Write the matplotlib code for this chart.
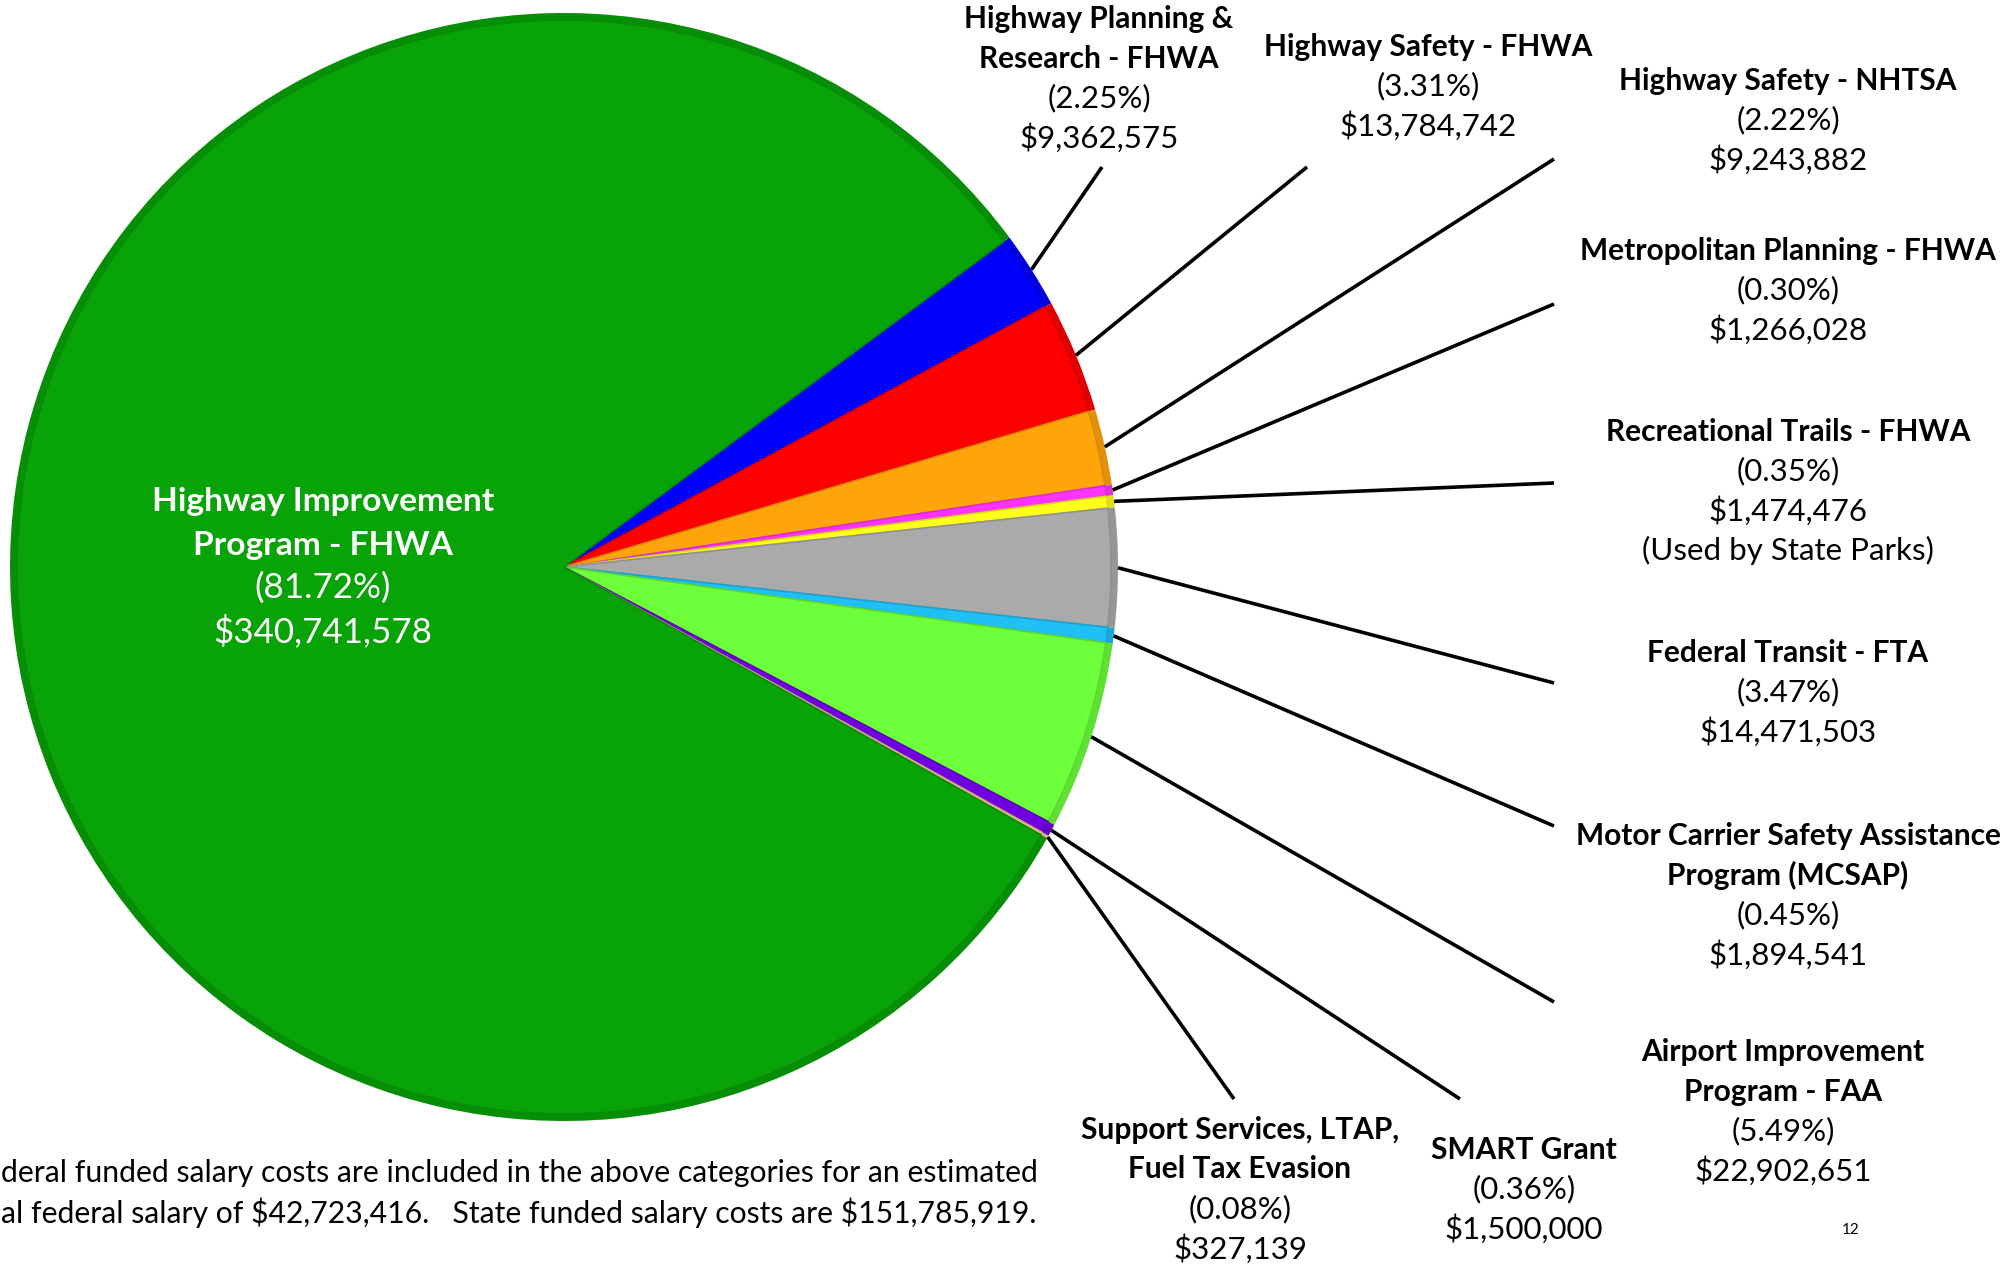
import numpy as np
import matplotlib
matplotlib.use("Agg")
from matplotlib import pyplot as plt
from matplotlib.colors import to_rgb

plt.rcParams['font.family'] = ['Lato', 'DejaVu Sans']
plt.rcParams['text.parse_math'] = False

# slice data, clockwise from the blue slice
titles = [
    ["Highway Planning &", "Research - FHWA"],
    ["Highway Safety - FHWA"],
    ["Highway Safety - NHTSA"],
    ["Metropolitan Planning - FHWA"],
    ["Recreational Trails - FHWA"],
    ["Federal Transit - FTA"],
    ["Motor Carrier Safety Assistance", "Program (MCSAP)"],
    ["Airport Improvement", "Program - FAA"],
    ["SMART Grant"],
    ["Support Services, LTAP,", "Fuel Tax Evasion"],
    ["Highway Improvement", "Program - FHWA"],
]
notes = ["", "", "", "", "(Used by State Parks)", "", "", "", "", "", ""]
amounts = [9362575, 13784742, 9243882, 1266028, 1474476, 14471503,
           1894541, 22902651, 1500000, 327139, 340741578]
colors = ['#0000FF', '#FF0000', '#FFA50A', '#FF33FF', '#FFFF1A', '#AAAAAA',
          '#1EC0F5', '#6CFF3A', '#7000E0', '#F8C888', '#07A307']

# footnote as it shows on the slide (left part runs off the page)
footnote = ["deral funded salary costs are included in the above categories for an estimated",
            "al federal salary of $42,723,416.   State funded salary costs are $151,785,919."]

W, H = 2009, 1264
fig = plt.figure(figsize=(W / 100, H / 100), dpi=100)
ax = fig.add_axes([0, 0, 1, 1])

cx, cy, R = 564, H - 567, 554
start = 36.5

def darker(c, f):
    r, g, b = to_rgb(c)
    return (r * f, g * f, b * f)

# outer rim (a bit darker) then main face
ax.pie(amounts, colors=[darker(c, 0.88) for c in colors], startangle=start,
       counterclock=False, center=(cx, cy), radius=R, frame=True,
       wedgeprops=dict(linewidth=0))
wedges, _ = ax.pie(amounts, colors=colors, startangle=start, counterclock=False,
                   center=(cx, cy), radius=R - 7, frame=True,
                   wedgeprops=dict(linewidth=1.2, edgecolor='none'))
for w, c in zip(wedges, colors):
    w.set_edgecolor(darker(c, 0.85))

ax.set_xlim(0, W)
ax.set_ylim(0, H)
ax.set_aspect('equal')
ax.axis('off')

total = float(sum(amounts))

# label layout (pixel coords, y from top): text centre x, first line y
label_pos = [(1099, 19), (1428, 47), (1788, 81), (1788, 251), (1788, 432),
             (1788, 653), (1788, 836), (1783, 1052), (1524, 1150), (1240, 1130),
             (323, 502)]
line_end = [(1102, 167), (1307, 167), (1554, 159), (1554, 304), (1554, 483),
            (1554, 683), (1554, 826), (1554, 1002), (1460, 1099), (1234, 1099),
            None]

fs_b, fs_r = 21.5, 22.5
step = 39.5
for i, w in enumerate(wedges):
    lx, ly = label_pos[i]
    inside = i == len(wedges) - 1
    txtcol = 'white' if inside else 'black'
    sp = 43 if inside else step
    k_b = 1.12 if inside else 1.0
    lines = [(t, 'bold') for t in titles[i]]
    lines.append(("(%.2f%%)" % (amounts[i] / total * 100), 'normal'))
    lines.append(("${:,}".format(amounts[i]), 'normal'))
    if notes[i]:
        lines.append((notes[i], 'normal'))
    for k, (t, wt) in enumerate(lines):
        size = (fs_b if wt == 'bold' else fs_r) * k_b
        ax.text(lx, H - (ly + k * sp), t, ha='center', va='center',
                fontsize=size, fontweight=wt, color=txtcol)
    if line_end[i] is not None:
        mid = np.deg2rad((w.theta1 + w.theta2) / 2)
        x0 = cx + R * np.cos(mid)
        y0 = cy + R * np.sin(mid)
        ex, ey = line_end[i]
        ax.plot([x0, ex], [y0, H - ey], color='black', lw=2.6,
                solid_capstyle='butt')

for k, t in enumerate(footnote):
    ax.text(1, H - (1173 + k * 40), t, ha='left', va='center', fontsize=21.7)

ax.text(1851, H - 1230, "12", ha='center', va='center', fontsize=11)

fig.savefig("out.png", dpi=100)
